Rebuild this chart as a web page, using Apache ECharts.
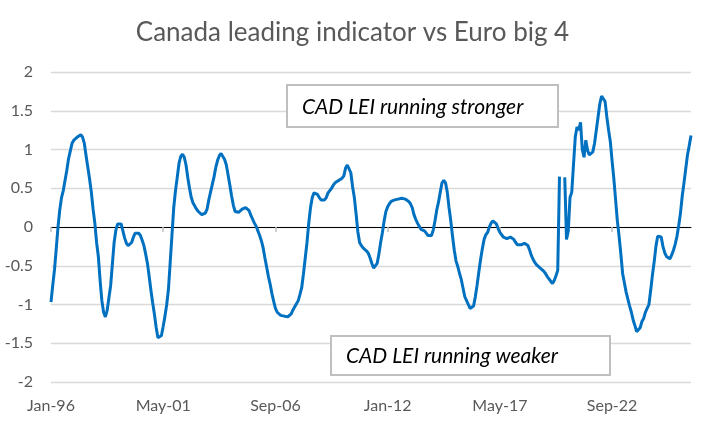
<!DOCTYPE html>
<html>
<head>
<meta charset="utf-8">
<script src="https://cdn.jsdelivr.net/npm/echarts@6/dist/echarts.min.js"></script>
<style>
html,body{margin:0;padding:0;background:#fff;}
#chart{width:705px;height:422px;}
</style>
</head>
<body>
<div id="chart"></div>
<script>
// Monthly categories Jan-96 .. Jun-26
const startYear = 1996;
const monthCount = 366;
const monthNames = ['Jan','Feb','Mar','Apr','May','Jun','Jul','Aug','Sep','Oct','Nov','Dec'];
const categories = [];
for (let i = 0; i < monthCount; i++) {
  const y = startYear + Math.floor(i / 12);
  categories.push(monthNames[i % 12] + '-' + String(y % 100).padStart(2, '0'));
}

// CAD LEI vs Euro big 4 (relative)
const lei1996_2000 = [
  -0.97,-0.75,-0.55,-0.28,0.0,0.22,0.38,0.47,0.6,0.73,
  0.88,0.98,1.08,1.12,1.14,1.16,1.18,1.19,1.16,1.08,
  0.92,0.77,0.62,0.45,0.23,0.05,-0.2,-0.38,-0.69,-0.95,
  -1.1,-1.16,-1.08,-0.92,-0.76,-0.48,-0.2,-0.04,0.04,0.06,
  0.04,-0.05,-0.14,-0.21,-0.24,-0.24,-0.2,-0.13,-0.08,-0.06,
  -0.08,-0.11,-0.17,-0.24,-0.35,-0.47,-0.64,-0.82,-0.98,-1.13
];
const lei2001_2005 = [
  -1.3,-1.43,-1.45,-1.4,-1.28,-1.15,-1.0,-0.8,-0.45,-0.1,
  0.25,0.47,0.64,0.82,0.91,0.94,0.9,0.8,0.64,0.5,
  0.38,0.31,0.27,0.23,0.2,0.18,0.16,0.15,0.18,0.23,
  0.35,0.45,0.55,0.65,0.77,0.86,0.92,0.95,0.93,0.87,
  0.8,0.67,0.54,0.4,0.28,0.2,0.19,0.19,0.21,0.23,
  0.25,0.25,0.24,0.21,0.15,0.1,0.05,0.01,-0.05,-0.11
];
const lei2006_2010 = [
  -0.18,-0.27,-0.4,-0.52,-0.64,-0.74,-0.86,-0.96,-1.05,-1.1,
  -1.12,-1.14,-1.15,-1.15,-1.16,-1.16,-1.15,-1.12,-1.07,-1.03,
  -0.99,-0.95,-0.87,-0.78,-0.6,-0.4,-0.2,0.05,0.25,0.38,
  0.44,0.45,0.42,0.38,0.35,0.34,0.35,0.38,0.44,0.47,
  0.5,0.54,0.57,0.59,0.6,0.6,0.63,0.66,0.76,0.8,
  0.79,0.7,0.52,0.38,0.17,-0.06,-0.2,-0.24,-0.27,-0.29
];
const lei2011_2015 = [
  -0.31,-0.34,-0.4,-0.47,-0.53,-0.54,-0.47,-0.35,-0.2,-0.07,
  0.08,0.2,0.26,0.3,0.33,0.35,0.35,0.36,0.36,0.37,
  0.37,0.37,0.36,0.35,0.33,0.3,0.25,0.16,0.1,0.05,
  0.01,-0.03,-0.04,-0.05,-0.08,-0.11,-0.12,-0.11,-0.04,0.08,
  0.22,0.32,0.45,0.57,0.6,0.57,0.45,0.25,0.08,-0.12,
  -0.3,-0.44,-0.51,-0.6,-0.68,-0.79,-0.9,-0.95,-1.0,-1.05
];
const lei2016_2020 = [
  -1.05,-1.02,-0.9,-0.75,-0.58,-0.42,-0.28,-0.16,-0.1,-0.07,
  0.0,0.05,0.08,0.07,0.04,-0.02,-0.07,-0.1,-0.13,-0.15,
  -0.15,-0.14,-0.13,-0.13,-0.16,-0.2,-0.23,-0.24,-0.23,-0.22,
  -0.21,-0.21,-0.24,-0.3,-0.37,-0.42,-0.46,-0.49,-0.51,-0.53,
  -0.54,-0.57,-0.6,-0.64,-0.67,-0.7,-0.73,-0.69,-0.63,-0.56,
  0.65,null,null,0.64,-0.16,-0.05,0.38,0.45,0.81,1.16
];
const lei2021_2026 = [
  1.29,1.25,1.35,1.0,0.9,1.12,0.99,0.93,0.93,0.97,
  1.08,1.25,1.42,1.59,1.69,1.7,1.62,1.42,1.25,1.1,
  0.85,0.62,0.35,0.08,-0.12,-0.35,-0.6,-0.72,-0.84,-0.93,
  -1.02,-1.1,-1.2,-1.27,-1.35,-1.35,-1.3,-1.22,-1.18,-1.1,
  -1.05,-1.0,-0.82,-0.62,-0.45,-0.25,-0.12,-0.1,-0.13,-0.25,
  -0.33,-0.38,-0.4,-0.41,-0.36,-0.3,-0.22,-0.12,0.02,0.18,
  0.4,0.57,0.75,0.93,1.05,1.18
];
const leiValues = [].concat(lei1996_2000, lei2001_2005, lei2006_2010, lei2011_2015, lei2016_2020, lei2021_2026);

const yTicks = { min: -2, max: 2, interval: 0.5 };
const titleText = 'Canada leading indicator vs Euro big 4';
const noteStrong = 'CAD LEI running stronger';
const noteWeak = 'CAD LEI running weaker';

const FONT = 'Lato, "Open Sans", sans-serif';
const chart = echarts.init(document.getElementById('chart'), null, { renderer: 'canvas' });
chart.setOption({
  animation: false,
  backgroundColor: '#fff',
  title: {
    text: titleText,
    left: 'center',
    top: 15,
    textStyle: { fontFamily: FONT, fontSize: 26, fontWeight: 'normal', color: '#595959' }
  },
  grid: { left: 51, right: 14, top: 72, bottom: 40, containLabel: false },
  xAxis: [
    {
      type: 'category',
      data: categories,
      boundaryGap: false,
      position: 'bottom',
      axisLine: { show: false, onZero: false },
      axisTick: { show: false },
      splitLine: { show: false },
      axisLabel: { interval: 63, color: '#595959', fontSize: 16, fontFamily: FONT, margin: 16 }
    },
    {
      type: 'category',
      data: categories,
      boundaryGap: false,
      position: 'bottom',
      axisLine: { show: true, onZero: true, lineStyle: { color: '#000', width: 1 } },
      axisTick: { show: true, interval: 63, length: 5, lineStyle: { color: '#bfbfbf', width: 1.5 } },
      axisLabel: { show: false },
      splitLine: { show: false }
    }
  ],
  yAxis: {
    type: 'value',
    min: yTicks.min,
    max: yTicks.max,
    interval: yTicks.interval,
    axisLine: { show: false },
    axisTick: { show: false },
    axisLabel: { color: '#595959', fontSize: 16, fontFamily: FONT, margin: 18 },
    splitLine: { lineStyle: { color: '#d9d9d9', width: 1.3 } }
  },
  series: [{
    type: 'line',
    xAxisIndex: 0,
    data: leiValues,
    showSymbol: false,
    connectNulls: false,
    smooth: false,
    lineStyle: { color: '#0070C0', width: 3 },
    z: 5
  }],
  graphic: [
    { type: 'rect', shape: { x: 287, y: 85, width: 271, height: 42 },
      style: { fill: '#fff', stroke: '#bfbfbf', lineWidth: 2 }, z: 100 },
    { type: 'text', x: 302, y: 107,
      style: { text: noteStrong, fontFamily: FONT, fontSize: 21, fontStyle: 'italic', fill: '#000', align: 'left', verticalAlign: 'middle' }, z: 101 },
    { type: 'rect', shape: { x: 331, y: 336, width: 279, height: 39 },
      style: { fill: '#fff', stroke: '#bfbfbf', lineWidth: 2 }, z: 100 },
    { type: 'text', x: 346, y: 356,
      style: { text: noteWeak, fontFamily: FONT, fontSize: 21, fontStyle: 'italic', fill: '#000', align: 'left', verticalAlign: 'middle' }, z: 101 }
  ]
});
</script>
</body>
</html>
